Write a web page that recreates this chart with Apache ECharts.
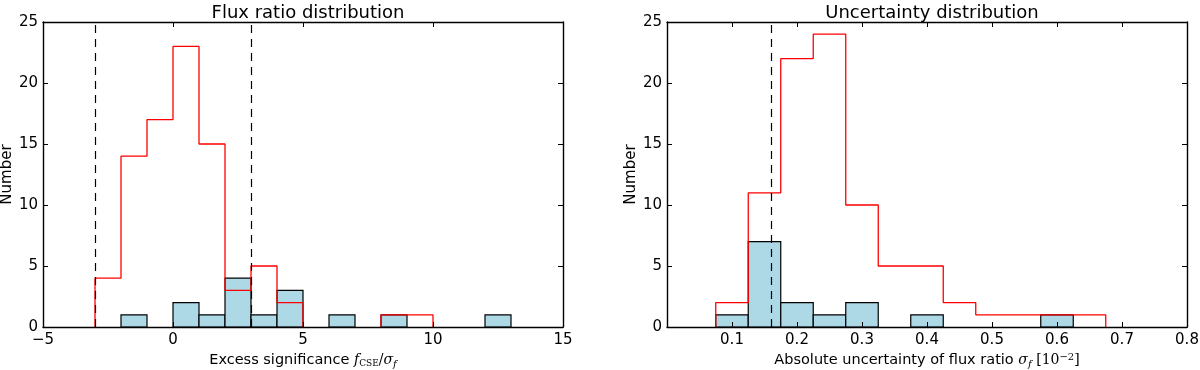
<!DOCTYPE html>
<html>
<head>
<meta charset="utf-8">
<script src="https://cdn.jsdelivr.net/npm/echarts@6/dist/echarts.min.js"></script>
<style>
  html, body { margin: 0; padding: 0; background: #fff; }
  #chart { width: 1200px; height: 370px; }
</style>
</head>
<body>
<div id="chart"></div>
<script>
// left panel: excess significance, bins of width 1
const fluxEdges = [-3, -2, -1, 0, 1, 2, 3, 4, 5, 6, 7, 8, 9, 10, 11, 12, 13]
const fluxAll = [4, 14, 17, 23, 15, 3, 5, 2, 0, 0, 0, 1, 1, 0, 0, 0]
const fluxSel = [0, 1, 0, 2, 1, 4, 1, 3, 0, 1, 0, 1, 0, 0, 0, 1]
const fluxCuts = [-3, 3]

// right panel: absolute uncertainty, bins of width 0.05
const uncEdges = [0.075, 0.125, 0.175, 0.225, 0.275, 0.325, 0.375, 0.425, 0.475, 0.525, 0.575, 0.625, 0.675]
const uncAll = [2, 11, 22, 24, 10, 5, 5, 2, 1, 1, 1, 1]
const uncSel = [1, 7, 2, 1, 2, 0, 1, 0, 0, 0, 1, 0]
const uncCut = [0.16]

const titles = ['Flux ratio distribution', 'Uncertainty distribution']

const chart = echarts.init(document.getElementById('chart'), null, { renderer: 'canvas' })

// step outline of a histogram (matplotlib histtype='step'),
// runs along zero are left out since the axis spine covers them anyway
const stepPoints = (edges, counts) => {
  const pts = []
  let prev = 0
  counts.forEach((c, i) => {
    if (c > 0) {
      if (prev === 0) pts.push([edges[i], 0])
      pts.push([edges[i], c])
      pts.push([edges[i + 1], c])
    } else if (prev > 0) {
      pts.push([edges[i], 0])
      pts.push([edges[i], '-'])
    }
    prev = c
  })
  if (prev > 0) pts.push([edges[counts.length], 0])
  return pts
}

const barData = (edges, counts) =>
  counts
    .map((c, i) => [edges[i], edges[i + 1], c])
    .filter((d) => d[2] > 0)

const renderBar = (params, api) => {
  const p0 = api.coord([api.value(0), api.value(2)])
  const p1 = api.coord([api.value(1), 0])
  return {
    type: 'rect',
    shape: { x: p0[0], y: p0[1], width: p1[0] - p0[0], height: p1[1] - p0[1] },
    style: { fill: '#add8e6', stroke: '#000', lineWidth: 1.2 }
  }
}

const minus = (s) => String(s).replace('-', '\u2212')
const tickFont = { fontFamily: 'DejaVu Sans', fontSize: 15, color: '#000' }
const mathRich = {
  i: { fontFamily: 'DejaVu Serif', fontStyle: 'italic', fontSize: 14, color: '#000' },
  r: { fontFamily: 'DejaVu Serif', fontSize: 14, color: '#000' },
  s: { fontFamily: 'DejaVu Serif', fontStyle: 'italic', fontSize: 10, color: '#000', padding: [7, 0, 0, 0] },
  c: { fontFamily: 'DejaVu Serif', fontSize: 9, color: '#000', padding: [6, 0, 0, 0] },
  u: { fontFamily: 'DejaVu Serif', fontSize: 10, color: '#000', padding: [0, 0, 7, 0] }
}

const grids = [
  { left: 43, right: 637, top: 22, bottom: 43, outerBoundsMode: 'none', containLabel: false },
  { left: 667, right: 13, top: 22, bottom: 43, outerBoundsMode: 'none', containLabel: false }
]

const xRanges = [
  { min: -5, max: 15, interval: 5, fmt: (v) => minus(v) },
  { min: 0, max: 0.8, interval: 0.1, fmt: (v) => (v === 0 ? '' : v.toFixed(1)) }
]
const xNames = [
  'Excess significance {i|f}{c|CSE}{r|/}{i|σ}{s|f}',
  'Absolute uncertainty of flux ratio {i|σ}{s|f} {r|[10}{u|−2}{r|]}'
]

const xAxes = []
const yAxes = []
grids.forEach((g, k) => {
  const r = xRanges[k]
  const common = {
    type: 'value', gridIndex: k, min: r.min, max: r.max, interval: r.interval,
    z: 10,
    splitLine: { show: false },
    axisLine: { show: true, onZero: false, lineStyle: { color: '#000', width: 1.4 } },
    axisTick: { show: true, inside: true, length: 5, lineStyle: { color: '#000' } }
  }
  xAxes.push({
    ...common, position: 'bottom',
    axisLabel: { ...tickFont, margin: 6, formatter: r.fmt },
    name: xNames[k], nameLocation: 'middle', nameGap: 25, nameMoveOverlap: false,
    nameTextStyle: { fontFamily: 'DejaVu Sans', fontSize: 14.5, color: '#000', rich: mathRich }
  })
  xAxes.push({ ...common, position: 'top', axisLabel: { show: false } })
  const ycommon = {
    type: 'value', gridIndex: k, min: 0, max: 25, interval: 5,
    z: 10,
    splitLine: { show: false },
    axisLine: { show: true, onZero: false, lineStyle: { color: '#000', width: 1.4 } },
    axisTick: { show: true, inside: true, length: 5, lineStyle: { color: '#000' } }
  }
  yAxes.push({
    ...ycommon, position: 'left',
    axisLabel: { ...tickFont, margin: 5 },
    name: 'Number', nameLocation: 'middle', nameGap: 5, nameMoveOverlap: true,
    nameTextStyle: { fontFamily: 'DejaVu Sans', fontSize: 15, color: '#000' }
  })
  yAxes.push({ ...ycommon, position: 'right', axisLabel: { show: false } })
})

const panels = [
  { edges: fluxEdges, all: fluxAll, sel: fluxSel, cuts: fluxCuts },
  { edges: uncEdges, all: uncAll, sel: uncSel, cuts: uncCut }
]

const series = []
panels.forEach((p, k) => {
  series.push({
    type: 'custom',
    xAxisIndex: 2 * k,
    yAxisIndex: 2 * k,
    renderItem: renderBar,
    encode: { x: [0, 1], y: 2 },
    data: barData(p.edges, p.sel),
    z: 2
  })
  series.push({
    type: 'line',
    xAxisIndex: 2 * k,
    yAxisIndex: 2 * k,
    data: stepPoints(p.edges, p.all),
    showSymbol: false,
    symbol: 'none',
    connectNulls: false,
    lineStyle: { color: '#ff0000', width: 1.3 },
    z: 3,
    silent: true,
    markLine: {
      silent: true,
      symbol: 'none',
      label: { show: false },
      lineStyle: { color: '#000', type: [8, 6], width: 1.2 },
      data: p.cuts.map((c) => ({ xAxis: c }))
    }
  })
})

const option = {
  animation: false,
  backgroundColor: '#fff',
  title: titles.map((t, k) => ({
    text: t,
    left: k === 0 ? 303 : 927,
    top: -1,
    textAlign: 'center',
    textStyle: { fontFamily: 'DejaVu Sans', fontSize: 18, fontWeight: 'normal', color: '#000' }
  })),
  grid: grids,
  xAxis: xAxes,
  yAxis: yAxes,
  series: series
}

chart.setOption(option)
</script>
</body>
</html>
